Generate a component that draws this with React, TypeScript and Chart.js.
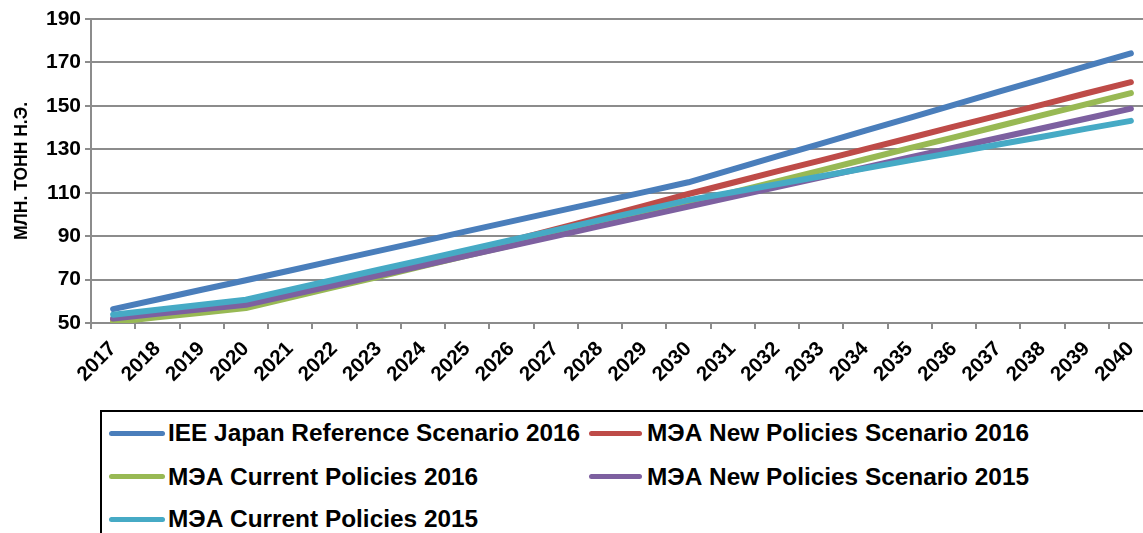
import React, { useEffect, useRef } from "react";
import { Chart, registerables } from "chart.js";

Chart.register(...registerables);

const years = [
  "2017", "2018", "2019", "2020", "2021", "2022", "2023", "2024", "2025", "2026", "2027", "2028",
  "2029", "2030", "2031", "2032", "2033", "2034", "2035", "2036", "2037", "2038", "2039", "2040",
];

const ieeJapanReference2016 = [
  56.4, 60.8, 65.3, 69.7, 74.2, 78.7, 83.2, 87.7, 92.3, 96.8, 101.3, 105.8,
  110.3, 114.8, 120.7, 126.7, 132.6, 138.6, 144.5, 150.4, 156.4, 162.3, 168.3, 174.2,
];
const ieaNewPolicies2016 = [
  51.5, 53.7, 55.8, 57.6, 62.6, 67.6, 72.6, 77.7, 82.8, 87.9, 93.2, 98.5,
  103.9, 109.4, 114.6, 119.8, 124.9, 130.1, 135.2, 140.4, 145.5, 150.6, 155.8, 160.9,
];
const ieaCurrentPolicies2016 = [
  50.4, 52.6, 54.7, 56.9, 61.7, 66.5, 71.3, 76.2, 81.0, 85.8, 90.6, 95.4,
  100.2, 105.0, 110.1, 115.2, 120.3, 125.4, 130.5, 135.5, 140.6, 145.7, 150.8, 155.9,
];
const ieaNewPolicies2015 = [
  52.1, 54.2, 56.3, 58.4, 62.9, 67.4, 72.0, 76.5, 81.0, 85.5, 90.0, 94.6,
  99.1, 103.6, 108.1, 112.6, 117.1, 121.6, 126.2, 130.7, 135.2, 139.7, 144.2, 148.7,
];
const ieaCurrentPolicies2015 = [
  53.8, 56.1, 58.4, 60.7, 65.3, 69.9, 74.5, 79.1, 83.7, 88.2, 92.8, 97.4,
  102.0, 106.6, 110.2, 113.9, 117.6, 121.2, 124.9, 128.5, 132.2, 135.8, 139.5, 143.1,
];

const seriesNames = [
  "IEE Japan Reference Scenario 2016",
  "МЭА New Policies Scenario 2016",
  "МЭА Current Policies 2016",
  "МЭА New Policies Scenario 2015",
  "МЭА Current Policies 2015",
];
const seriesValues = [
  ieeJapanReference2016,
  ieaNewPolicies2016,
  ieaCurrentPolicies2016,
  ieaNewPolicies2015,
  ieaCurrentPolicies2015,
];
const seriesColors = ["#4A7EBB", "#BE4B48", "#98B954", "#7D60A0", "#46AAC5"];

const yMin = 50;
const yMax = 190;
const yStep = 20;
const yTitle = "МЛН. ТОНН Н.Э.";

const FONT = '"Liberation Sans", Arial, sans-serif';

export default function App() {
  const canvasRef = useRef<HTMLCanvasElement | null>(null);

  useEffect(() => {
    document.body.style.margin = "0";
    const canvas = canvasRef.current;
    if (!canvas) return;
    const chart = new Chart(canvas, {
      type: "line",
      data: {
        labels: years,
        datasets: seriesValues.map((vals, i) => ({
          label: seriesNames[i],
          data: vals,
          borderColor: seriesColors[i],
          backgroundColor: seriesColors[i],
          borderWidth: 6,
          pointRadius: 0,
          pointHoverRadius: 0,
          tension: 0,
          fill: false,
          borderCapStyle: "round" as const,
          borderJoinStyle: "round" as const,
          order: seriesValues.length - i,
        })),
      },
      options: {
        animation: false,
        responsive: false,
        maintainAspectRatio: false,
        layout: { padding: { top: 19, right: 7, left: 0, bottom: 0 } },
        plugins: {
          legend: { display: false },
          tooltip: { enabled: false },
        },
        scales: {
          x: {
            offset: true,
            grid: {
              offset: true,
              drawOnChartArea: false,
              drawTicks: true,
              tickLength: 6,
              color: "#8C8C8C",
              lineWidth: 2,
            },
            border: { color: "#8C8C8C", width: 2 },
            ticks: {
              autoSkip: false,
              minRotation: 45,
              maxRotation: 45,
              color: "#000",
              padding: 8,
              font: { family: FONT, size: 20.5, weight: "bold" },
            },
            afterFit: (s: any) => {
              s.height = 77;
            },
          },
          y: {
            min: yMin,
            max: yMax,
            ticks: {
              stepSize: yStep,
              color: "#000",
              padding: 4,
              font: { family: FONT, size: 21, weight: "bold" },
            },
            grid: { color: "#8C8C8C", lineWidth: 2, tickLength: 6 },
            border: { color: "#8C8C8C", width: 2 },
            title: {
              display: true,
              text: yTitle,
              color: "#000",
              font: { family: FONT, size: 17.5, weight: "bold" },
              padding: { top: 12, bottom: 0 },
            },
            afterFit: (s: any) => {
              s.width = 91;
            },
          },
        },
      },
    });
    return () => chart.destroy();
  }, []);

  const rows = [433, 476.5, 519];
  const cols = [
    { lineLeft: 109, lineWidth: 56, textLeft: 168 },
    { lineLeft: 589, lineWidth: 53, textLeft: 647 },
  ];

  return (
    <div
      style={{
        position: "fixed",
        left: 0,
        top: 0,
        width: 1143,
        height: 533,
        overflow: "hidden",
        background: "#fff",
      }}
    >
      <canvas ref={canvasRef} width={1160} height={400} style={{ position: "absolute", left: 0, top: 0 }} />
      <div
        style={{
          position: "absolute",
          left: 100,
          top: 410,
          width: 1200,
          height: 300,
          border: "2px solid #000",
          boxSizing: "border-box",
        }}
      />
      {seriesNames.map((name, i) => {
        const row = rows[Math.floor(i / 2)];
        const col = cols[i % 2];
        return (
          <React.Fragment key={name}>
            <div
              style={{
                position: "absolute",
                left: col.lineLeft,
                top: row - 2.5,
                width: col.lineWidth,
                height: 5,
                borderRadius: 3,
                background: seriesColors[i],
              }}
            />
            <div
              style={{
                position: "absolute",
                left: col.textLeft,
                top: row - 12,
                fontFamily: FONT,
                fontWeight: "bold",
                fontSize: 24.4,
                lineHeight: "24px",
                whiteSpace: "nowrap",
                color: "#000",
              }}
            >
              {name}
            </div>
          </React.Fragment>
        );
      })}
    </div>
  );
}
